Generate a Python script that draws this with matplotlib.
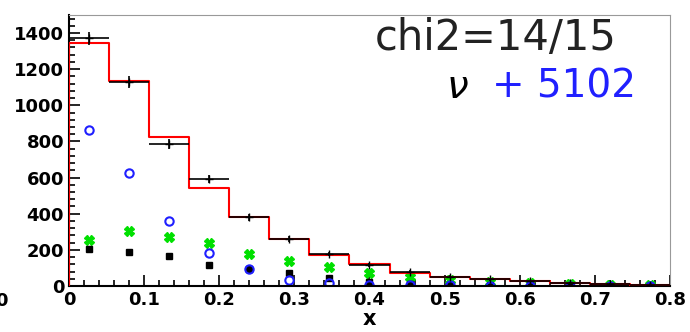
import numpy as np
import matplotlib.pyplot as plt
from matplotlib.ticker import MultipleLocator

# 15 bins in x from 0 to 0.8
edges = np.linspace(0, 0.8, 16)
centers = 0.5 * (edges[:-1] + edges[1:])

# data (black crosses) and fit histogram (red)
data_y = [1370, 1130, 786, 592, 380, 262, 177, 115, 78, 52, 36, 25, 17, 12, 8]
fit_y = [1345, 1134, 825, 544, 384, 262, 172, 122, 74, 52, 39, 28, 18, 12, 8]

# components
green_y = [255, 304, 273, 238, 177, 138, 105, 72, 50, 33, 22, 16, 11, 8, 6]
black_y = [205, 188, 168, 116, 92, 70, 46, 22, 13, 8, 5, 3, 2, 1, 1]
blue_y = [863, 624, 360, 181, 92, 33, 15, 8, 5, 3, 2, 1, 1, 0, 0]

fig = plt.figure(figsize=(6.9, 3.32), dpi=100)
ax = fig.add_axes([0.1, 0.1386, 0.871, 0.8164])

# red fit histogram
xs = np.concatenate([[edges[0]], np.repeat(edges[1:-1], 2), [edges[-1]]])
ys = np.repeat(fit_y, 2)
xs = np.concatenate([[edges[0]], xs, [edges[-1]]])
ys = np.concatenate([[0], ys, [0]])
ax.plot(xs, ys, color='red', lw=1.5, zorder=3)

# data points
ax.errorbar(centers, data_y, xerr=(edges[1] - edges[0]) / 2, yerr=np.sqrt(data_y),
            fmt='+', color='black', ms=6, lw=1.2, capsize=0, zorder=4)

ax.plot(centers, green_y, 'X', color='#00e000', ms=7, mec='#00e000', zorder=2)
ax.plot(centers, black_y, 's', color='black', ms=5, zorder=2)
ax.plot(centers, blue_y, 'o', mfc='none', mec='#1f1fff', mew=1.5, ms=6, zorder=2)

ax.set_xlim(0, 0.8)
ax.set_ylim(0, 1500)
ax.xaxis.set_major_locator(MultipleLocator(0.1))
ax.xaxis.set_minor_locator(MultipleLocator(0.02))
ax.yaxis.set_major_locator(MultipleLocator(200))
ax.yaxis.set_minor_locator(MultipleLocator(40))
ax.tick_params(which='both', direction='in', top=False, right=False,
               labelsize=13, width=1.2)
ax.tick_params(which='major', length=8)
ax.tick_params(which='minor', length=4)
ax.xaxis.set_major_formatter(plt.FuncFormatter(lambda v, p: '0' if v == 0 else f'{v:g}'))
for lab in ax.get_xticklabels() + ax.get_yticklabels():
    lab.set_fontweight('bold')

ax.spines['top'].set_color('#999999')
ax.spines['right'].set_color('#999999')
ax.spines['left'].set_linewidth(1.5)
ax.spines['bottom'].set_linewidth(1.5)

ax.set_xlabel('x', fontsize=15, fontweight='bold', labelpad=0)

ax.text(0.912, 0.87, 'chi2=14/15', transform=ax.transAxes, fontsize=30,
        ha='right', va='baseline', color='#222222')
ax.text(0.627, 0.694, r'$\nu$', transform=ax.transAxes, fontsize=28,
        ha='left', va='baseline', color='black')
ax.text(0.944, 0.694, '+ 5102', transform=ax.transAxes, fontsize=28,
        ha='right', va='baseline', color='#2020ff')

# clipped tick label from neighbouring panel
fig.text(0.002, 0.077, '0', fontsize=13, fontweight='bold', ha='center')

fig.savefig('out.png', dpi=100)
